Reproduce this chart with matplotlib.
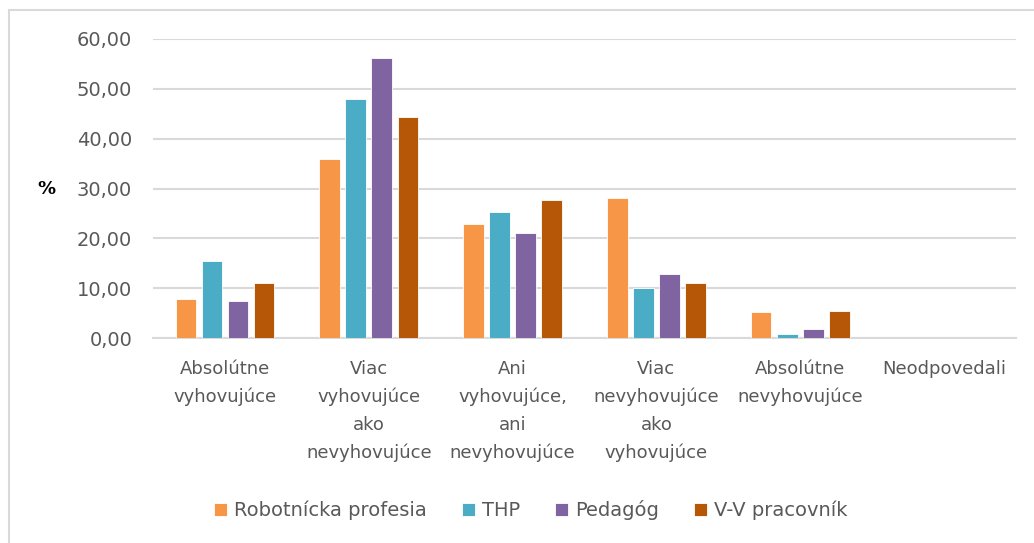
import matplotlib
matplotlib.use('Agg')
import matplotlib.pyplot as plt
from matplotlib.patches import Rectangle
from matplotlib.ticker import FuncFormatter
import numpy as np

# Data (percent)
categories = ['Absolútne\nvyhovujúce',
              'Viac\nvyhovujúce\nako\nnevyhovujúce',
              'Ani\nvyhovujúce,\nani\nnevyhovujúce',
              'Viac\nnevyhovujúce\nako\nvyhovujúce',
              'Absolútne\nnevyhovujúce',
              'Neodpovedali']
series_names = ['Robotnícka profesia', 'THP', 'Pedagóg', 'V-V pracovník']
robotnicka = [7.8, 35.9, 22.9, 28.1, 5.2, 0.0]
thp = [15.5, 48.0, 25.3, 10.1, 0.8, 0.0]
pedagog = [7.4, 56.2, 21.1, 12.9, 1.8, 0.0]
vv_pracovnik = [11.1, 44.4, 27.6, 11.1, 5.4, 0.0]
colors = ['#F79646', '#4BACC6', '#8064A2', '#B65708']

GREY = '#595959'

fig = plt.figure(figsize=(10.34, 5.43), dpi=100)
ax = fig.add_axes([153 / 1034, 1 - 338 / 543, 863 / 1034, 299 / 543])

x = np.arange(len(categories))
pitch = 0.181
width = 0.143
for j, (vals, name) in enumerate(zip([robotnicka, thp, pedagog, vv_pracovnik],
                                      series_names)):
    ax.bar(x + (j - 1.5) * pitch, vals, width, color=colors[j], label=name,
           edgecolor='white', linewidth=0.6, zorder=3)

# y axis
ax.set_ylim(0, 60)
ax.set_yticks(np.arange(0, 61, 10))
ax.yaxis.set_major_formatter(FuncFormatter(lambda v, p: ('%.2f' % v).replace('.', ',')))
ax.grid(axis='y', color='#D9D9D9', linewidth=1.5, zorder=0)
fig.text(55 / 1034, 1 - 189 / 543, '%', fontsize=13, fontweight='bold',
         ha='right', va='center', color='black')

# x axis
ax.set_xlim(-0.5, len(categories) - 0.5)
ax.set_xticks(x)
ax.set_xticklabels(categories, linespacing=1.67)

ax.tick_params(axis='both', length=0, labelcolor=GREY)
ax.tick_params(axis='y', pad=15, labelsize=14)
ax.tick_params(axis='x', pad=16, labelsize=13)
for side in ['top', 'right', 'left']:
    ax.spines[side].set_visible(False)
ax.spines['bottom'].set_color('#D9D9D9')
ax.spines['bottom'].set_linewidth(1.5)

leg = fig.legend(loc='center', bbox_to_anchor=(531 / 1034, 1 - 510 / 543),
                 ncol=4, frameon=False, fontsize=14, handlelength=0.67,
                 handleheight=0.67, handletextpad=0.36, columnspacing=1.8)
for t in leg.get_texts():
    t.set_color(GREY)

# chart border
fig.patches.append(Rectangle((9 / 1034, -0.1), 1.1, 1.1 - 10 / 543,
                             transform=fig.transFigure, fill=False,
                             edgecolor='#D9D9D9', linewidth=1.5))

plt.savefig('out.png', dpi=100)
